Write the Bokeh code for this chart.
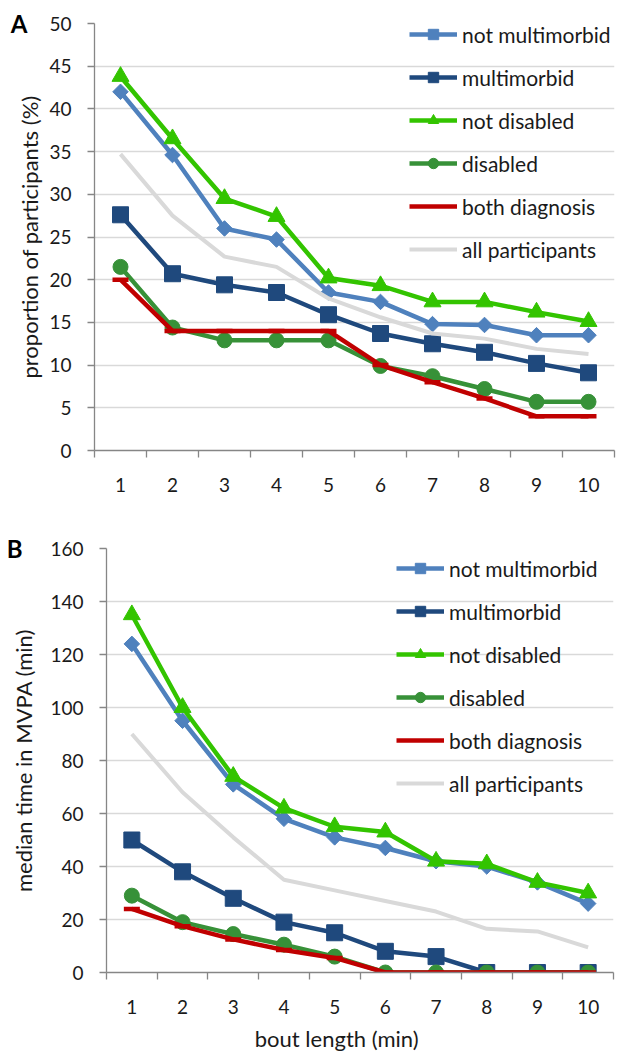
import numpy as np
from bokeh.plotting import figure
from bokeh.models import FixedTicker, Range1d, LinearAxis
from bokeh.layouts import column
from bokeh.embed import file_html
from bokeh.resources import INLINE

# ---- data ----
bout = [1, 2, 3, 4, 5, 6, 7, 8, 9, 10]
x_tick_labels = ["1", "2", "3", "4", "5", "6", "7", "8", "9", "10"]
series_names = ["not multimorbid", "multimorbid", "not disabled", "disabled",
                "both diagnosis", "all participants"]

# Panel A: proportion of participants (%)
a_not_multimorbid = [42.0, 34.6, 26.0, 24.7, 18.5, 17.4, 14.8, 14.7, 13.5, 13.5]
a_multimorbid = [27.6, 20.7, 19.4, 18.5, 15.9, 13.7, 12.5, 11.5, 10.2, 9.1]
a_not_disabled = [43.8, 36.5, 29.5, 27.4, 20.2, 19.3, 17.4, 17.4, 16.2, 15.1]
a_disabled = [21.5, 14.4, 12.9, 12.9, 12.9, 9.9, 8.7, 7.2, 5.7, 5.7]
a_both = [20.0, 14.0, 14.0, 14.0, 14.0, 10.0, 8.0, 6.1, 4.0, 4.0]
a_all = [34.7, 27.5, 22.7, 21.5, 17.8, 15.6, 13.7, 13.1, 11.9, 11.3]

# Panel B: median time in MVPA (min)
b_not_multimorbid = [124, 95, 71, 58, 51, 47, 42, 40, 34, 26]
b_multimorbid = [50, 38, 28, 19, 15, 8, 6, 0, 0, 0]
b_not_disabled = [135, 100, 74, 62, 55, 53, 42, 41, 34, 30]
b_disabled = [29, 19, 14.5, 10.5, 6, 0, 0, 0, 0, 0]
b_both = [24, 17.5, 12.5, 8.5, 5.5, 0, 0, 0, 0, 0]
b_all = [90, 68, 51, 35, 31, 27, 23, 16.5, 15.5, 9.5]

FONT = "Lato"
AXIS_GREY = "#868686"
GRID_GREY = "#d9d9d9"
TEXT = "#1a1a1a"

styles = [
    dict(color="#4f81bd", marker="square", size=11, angle=np.pi / 4),   # diamond
    dict(color="#1f497d", marker="square", size=16, angle=0.0),
    dict(color="#33c400", marker="triangle", size=17, angle=0.0),
    dict(color="#379138", marker="circle", size=15, angle=0.0),
    dict(color="#c00000", marker=None, size=0, angle=0.0),
    dict(color="#d9d9d9", marker=None, size=0, angle=0.0),
]


def bare_axis(ax):
    ax.axis_line_color = None
    ax.major_tick_line_color = None
    ax.minor_tick_line_color = None
    ax.major_tick_in = 0
    ax.major_tick_out = 0
    ax.minor_tick_in = 0
    ax.minor_tick_out = 0


def make_panel(series, y_max, y_step, letter, ylabel, ylabel_standoff, letter_standoff,
               border_left, border_right, border_top, border_bottom, height,
               legend_xy, xlabel=None, xlabel_pos=None):
    p = figure(width=623, height=height, output_backend="svg", toolbar_location=None,
               x_range=Range1d(0.5, 10.5), y_range=Range1d(0, y_max),
               min_border_left=border_left, min_border_right=border_right,
               min_border_top=border_top, min_border_bottom=border_bottom)
    p.frame_align = False
    p.outline_line_color = None
    p.background_fill_color = "white"

    for name, ys, st in zip(series_names, series, styles):
        lw = 4 if name == "all participants" else 4.5
        p.line(bout, ys, line_color=st["color"], line_width=lw, legend_label=name)
        if st["marker"] is not None:
            p.scatter(bout, ys, marker=st["marker"], size=st["size"], angle=st["angle"],
                      fill_color=st["color"], line_color=st["color"], line_width=1,
                      legend_label=name)
        if name == "both diagnosis":
            p.scatter(bout, ys, marker="dash", size=16, line_color=st["color"],
                      line_width=4.5)

    # x axis
    xa = p.xaxis[0]
    xa.ticker = FixedTicker(ticks=bout, minor_ticks=[i + 0.5 for i in range(0, 11)])
    xa.major_label_overrides = {b: l for b, l in zip(bout, x_tick_labels)}
    xa.major_tick_out = 0
    xa.major_tick_in = 0
    xa.minor_tick_out = 7
    xa.minor_tick_in = 0
    xa.minor_tick_line_color = AXIS_GREY
    xa.minor_tick_line_width = 1.3
    xa.axis_line_color = AXIS_GREY
    xa.axis_line_width = 1.3
    xa.major_label_text_font = FONT
    xa.major_label_text_font_size = "19px"
    xa.major_label_text_color = TEXT
    xa.major_label_standoff = 20

    # y axis
    ya = p.yaxis[0]
    ya.ticker = FixedTicker(ticks=list(np.arange(0, y_max + 0.1, y_step)))
    ya.major_tick_out = 7
    ya.major_tick_in = 0
    ya.minor_tick_out = 0
    ya.minor_tick_in = 0
    ya.major_tick_line_color = AXIS_GREY
    ya.major_tick_line_width = 1.3
    ya.axis_line_color = AXIS_GREY
    ya.axis_line_width = 1.3
    ya.major_label_text_font = FONT
    ya.major_label_text_font_size = "19px"
    ya.major_label_text_color = TEXT
    ya.major_label_standoff = 16
    ya.axis_label = ylabel
    ya.axis_label_text_font = FONT
    ya.axis_label_text_font_size = "22px"
    ya.axis_label_text_font_style = "normal"
    ya.axis_label_text_color = TEXT
    ya.axis_label_standoff = ylabel_standoff

    # panel letter, placed level with the top tick
    la = LinearAxis(ticker=FixedTicker(ticks=[y_max]),
                    major_label_overrides={y_max: letter})
    bare_axis(la)
    la.major_label_text_font = FONT
    la.major_label_text_font_style = "bold"
    la.major_label_text_font_size = "24px"
    la.major_label_text_color = "black"
    la.major_label_standoff = letter_standoff
    p.add_layout(la, "left")

    if xlabel is not None:
        xl = LinearAxis(ticker=FixedTicker(ticks=[xlabel_pos]),
                        major_label_overrides={xlabel_pos: xlabel})
        bare_axis(xl)
        xl.major_label_text_font = FONT
        xl.major_label_text_font_size = "22px"
        xl.major_label_text_color = TEXT
        xl.major_label_standoff = 8
        p.add_layout(xl, "below")

    p.xgrid.visible = False
    p.ygrid.grid_line_color = GRID_GREY
    p.ygrid.grid_line_width = 1.3

    # legend
    lg = p.legend[0]
    lg.location = legend_xy
    lg.background_fill_alpha = 0
    lg.border_line_color = None
    lg.padding = 0
    lg.margin = 0
    lg.glyph_width = 48
    lg.glyph_height = 26
    lg.label_height = 26
    lg.spacing = 17
    lg.label_standoff = 5
    lg.label_text_font = FONT
    lg.label_text_font_size = "21px"
    lg.label_text_color = TEXT
    return p


pa = make_panel([a_not_multimorbid, a_multimorbid, a_not_disabled, a_disabled, a_both, a_all],
                50, 5, "A", "proportion of participants (%)", 3, -14,
                border_left=94, border_right=9, border_top=23, border_bottom=50, height=500,
                legend_xy=(315, 188))

pb = make_panel([b_not_multimorbid, b_multimorbid, b_not_disabled, b_disabled, b_both, b_all],
                160, 20, "B", "median time in MVPA (min)", 10, -15,
                border_left=106, border_right=10, border_top=48, border_bottom=78, height=554,
                legend_xy=(290, 176), xlabel="bout length (min)", xlabel_pos=5.04)

layout = column(pa, pb, spacing=0)
open("out.html", "w").write(file_html(layout, INLINE))
